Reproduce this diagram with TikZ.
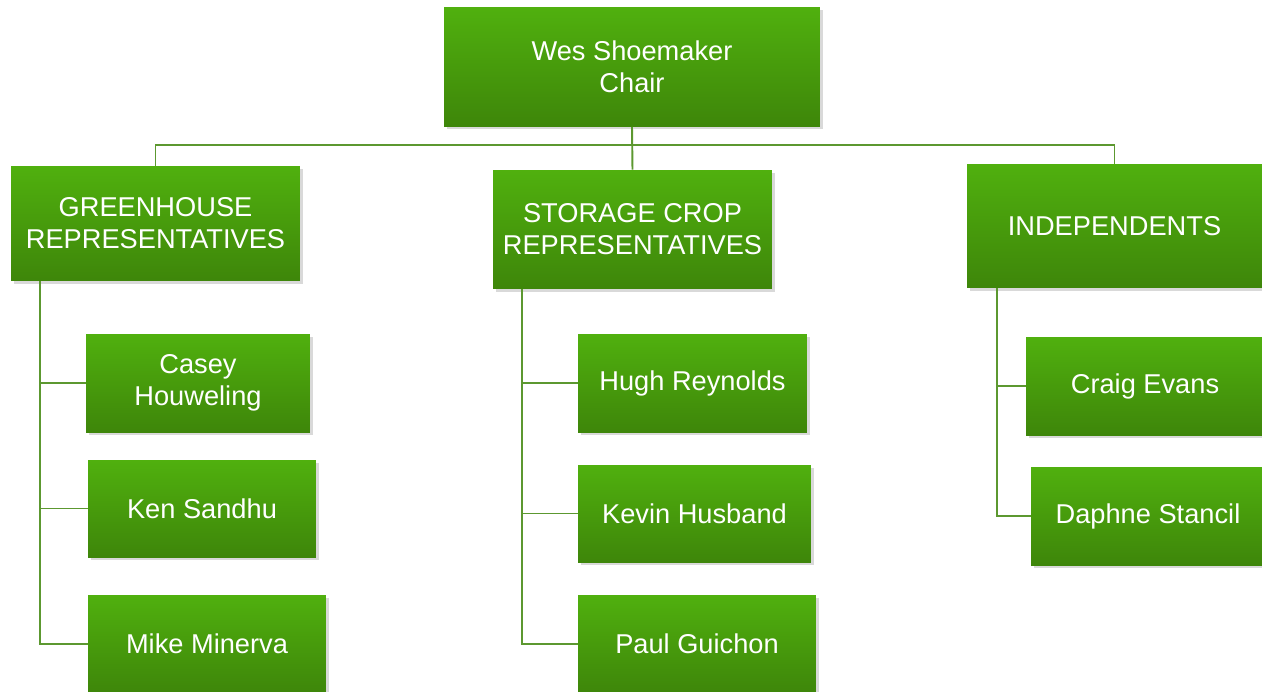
\documentclass[tikz,border=0pt]{standalone}
\usepackage{fontspec}
\setmainfont{Liberation Sans}
\usepackage{xcolor}
\usepackage{tikz}
\usetikzlibrary{positioning, shadows}

\definecolor{boxtop}{RGB}{80,176,14}
\definecolor{boxbot}{RGB}{62,134,10}
\definecolor{linegreen}{RGB}{92,152,48}

\tikzset{
  orgbox/.style={rectangle, top color=boxtop, bottom color=boxbot, draw=none,
    text=white, align=center, inner sep=0pt,
    font=\fontsize{15.5}{18.2}\selectfont,
    drop shadow={opacity=0.3, shadow xshift=1.5pt, shadow yshift=-1.5pt}},
  conn/.style={draw=linegreen, line width=1.1pt}
}

\begin{document}
\begin{tikzpicture}[x=0.02cm, y=-0.02cm]
        \useasboundingbox (0,0) rectangle (1262,691);

        % Chair
        \node[orgbox, minimum width=7.52cm, minimum height=2.38cm] (chair) at (632,67) {Wes Shoemaker\\Chair};

        % Groups
        \node[orgbox, minimum width=5.78cm, minimum height=2.30cm] (greenhouse) at (155.5,223.5) {GREENHOUSE\\REPRESENTATIVES};
        \node[orgbox, minimum width=5.58cm, minimum height=2.38cm] (storage) at (632.5,229.5) {STORAGE CROP\\REPRESENTATIVES};
        \node[orgbox, minimum width=5.90cm, minimum height=2.48cm] (indep) at (1114.5,226) {INDEPENDENTS};

        % Greenhouse members
        \node[orgbox, minimum width=4.48cm, minimum height=1.96cm] (casey) at (198,383) {Casey\\Houweling};
        \node[orgbox, minimum width=4.56cm, minimum height=1.94cm] (ken) at (202,508.5) {Ken Sandhu};
        \node[orgbox, minimum width=4.76cm, minimum height=1.96cm] (mike) at (207,644) {Mike Minerva};

        % Storage crop members
        \node[orgbox, minimum width=4.58cm, minimum height=1.96cm] (hugh) at (692.5,383) {Hugh Reynolds};
        \node[orgbox, minimum width=4.66cm, minimum height=1.94cm] (kevin) at (694.5,513.5) {Kevin Husband};
        \node[orgbox, minimum width=4.76cm, minimum height=1.96cm] (paul) at (697,644) {Paul Guichon};

        % Independents
        \node[orgbox, minimum width=4.76cm, minimum height=1.96cm] (craig) at (1145,386) {Craig Evans};
        \node[orgbox, minimum width=4.68cm, minimum height=1.96cm] (daphne) at (1148,516) {Daphne Stancil};

        % Connectors
        \coordinate (bus) at (632,145);
        \draw[conn] (chair.south) -- (storage.north);
        \draw[conn] (greenhouse.north) |- (bus) -| (indep.north);

        \coordinate (gh-trunk) at (40,281);
        \coordinate (sc-trunk) at (522,289);
        \coordinate (in-trunk) at (997,288);
        \foreach \n in {casey,ken,mike} \draw[conn] (gh-trunk) |- (\n.west);
        \foreach \n in {hugh,kevin,paul} \draw[conn] (sc-trunk) |- (\n.west);
        \foreach \n in {craig,daphne} \draw[conn] (in-trunk) |- (\n.west);
      \end{tikzpicture}
\end{document}
